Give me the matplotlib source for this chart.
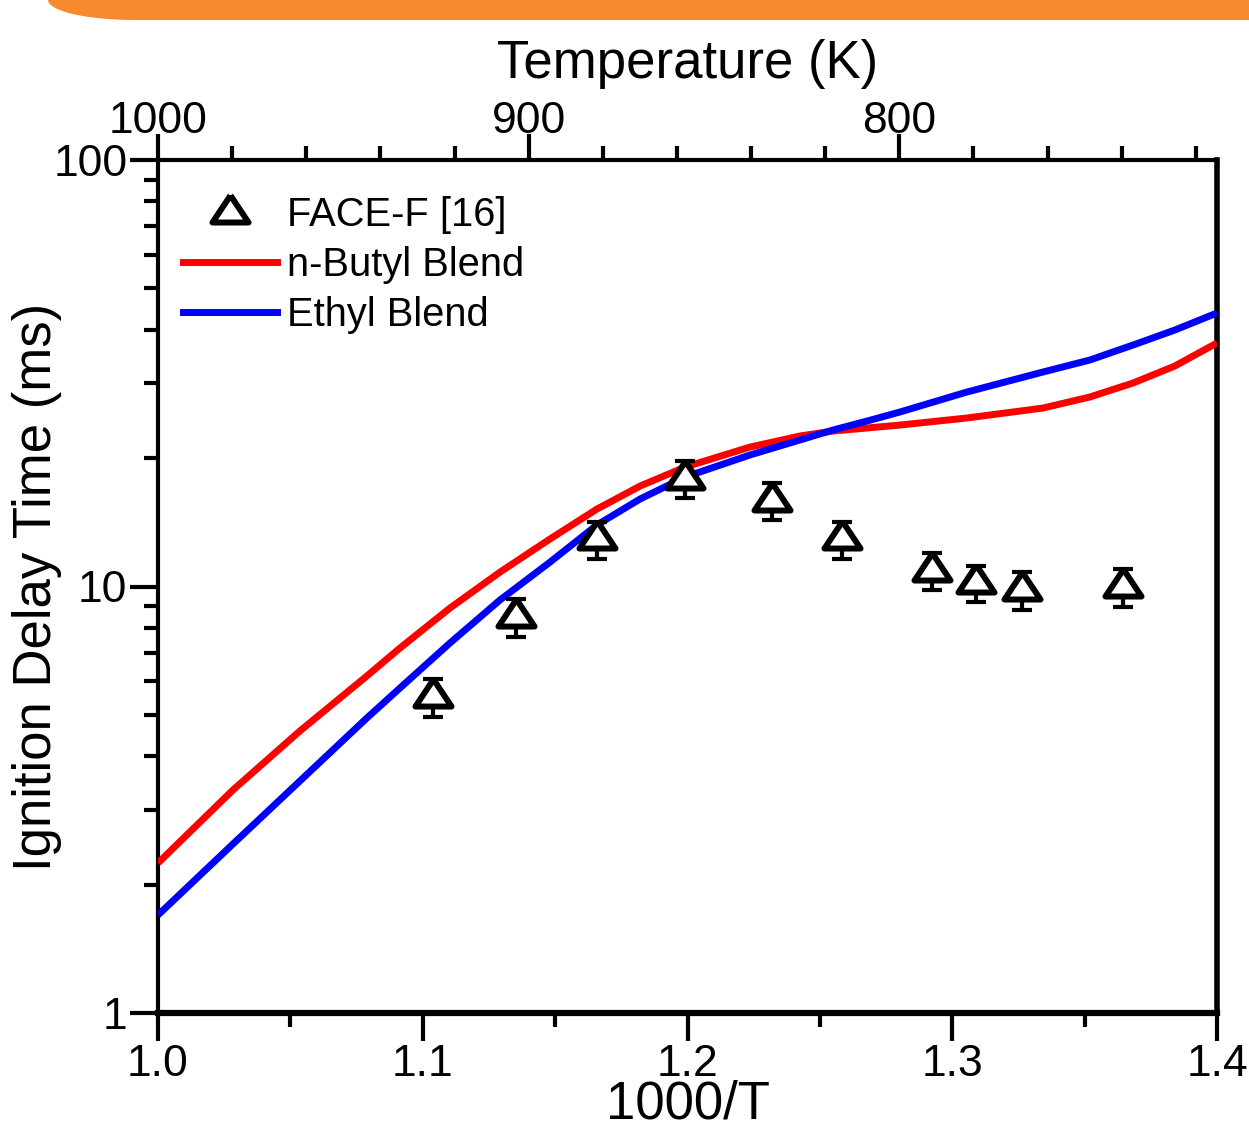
import matplotlib
matplotlib.use("Agg")
import matplotlib.pyplot as plt
from matplotlib.lines import Line2D
from matplotlib.markers import MarkerStyle
from matplotlib.patches import Polygon
from matplotlib.ticker import MultipleLocator, LogLocator, NullFormatter
import numpy as np

plt.rcParams['font.family'] = ['Liberation Sans', 'DejaVu Sans']

# FACE-F [16] measurements
exp_x = [1.1039, 1.1352, 1.1658, 1.1991, 1.2319, 1.2584, 1.2924, 1.3090, 1.3263, 1.3645]
exp_y = [5.51, 8.48, 12.9, 17.9, 15.9, 12.9, 10.9, 10.2, 9.81, 9.97]
exp_err = [0.56, 0.85, 1.3, 1.8, 1.6, 1.3, 1.1, 1.0, 1.0, 1.0]

# model curves
model_x = [1.0000, 1.0283, 1.0536, 1.0789, 1.0914, 1.1103, 1.1292, 1.1481, 1.1658,
           1.1821, 1.1991, 1.2236, 1.2425, 1.2550, 1.2678, 1.2803, 1.3056, 1.3343,
           1.3520, 1.3683, 1.3841, 1.4000]
butyl_y = [2.247, 3.333, 4.584, 6.169, 7.174, 8.903, 10.81, 12.93, 15.19,
           17.20, 19.06, 21.23, 22.54, 23.15, 23.53, 23.91, 24.84, 26.21,
           27.82, 30.00, 32.89, 37.24]
ethyl_y = [1.697, 2.490, 3.499, 4.917, 5.781, 7.372, 9.30, 11.41, 13.94,
           16.04, 18.06, 20.34, 22.06, 23.28, 24.43, 25.66, 28.58, 31.84,
           33.97, 36.83, 39.94, 43.78]

temp_ticks = [1000, 900, 800]

W, H = 1249, 1124
fig = plt.figure(figsize=(W / 100, H / 100), dpi=100)

# orange banner at the top
t = np.linspace(0, np.pi / 2, 30)
cx, cy, rx, ry = 135, 0, 87, 20
curve = [((cx - rx * np.cos(a)) / W, 1 - (cy + ry * np.sin(a)) / H) for a in t]
band = [(48 / W, 1.0)] + curve + [(1.0, 1 - 20 / H), (1.0, 1.0)]
fig.patches.append(Polygon(band, closed=True, transform=fig.transFigure,
                           facecolor='#F7892E', edgecolor='none'))

ax = fig.add_axes([158 / W, 1 - 1013 / H, (1217 - 158) / W, (1013 - 160) / H])

ax.plot(model_x, butyl_y, color='#FF0000', lw=5, solid_joinstyle='round',
        solid_capstyle='butt', zorder=3)
ax.plot(model_x, ethyl_y, color='#0000FF', lw=5, solid_joinstyle='round',
        solid_capstyle='butt', zorder=3)

tri = MarkerStyle([(0, 1), (-1, -0.5), (1, -0.5), (0, 1)], joinstyle='round')
ax.errorbar(exp_x, exp_y, yerr=exp_err, fmt='none', ecolor='black',
            elinewidth=3, capsize=7, capthick=3, zorder=4)
ax.plot(exp_x, exp_y, linestyle='none', marker=tri, markersize=26,
        mfc='white', mec='black', mew=4.3, zorder=5)

ax.set_yscale('log')
ax.set_xlim(1.0, 1.4)
ax.set_ylim(1, 100)
ax.set_xticks([1.0, 1.1, 1.2, 1.3, 1.4])
ax.set_xticklabels(['1.0', '1.1', '1.2', '1.3', '1.4'])
ax.xaxis.set_minor_locator(MultipleLocator(0.05))
ax.set_yticks([1, 10, 100])
ax.set_yticklabels(['1', '10', '100'])
ax.yaxis.set_minor_locator(LogLocator(base=10, subs=np.arange(2, 10)))
ax.yaxis.set_minor_formatter(NullFormatter())

ax.tick_params(axis='both', which='major', direction='out', length=20, width=3,
               labelsize=32)
ax.tick_params(axis='x', which='major', pad=2)
ax.tick_params(axis='y', which='major', pad=2)
ax.tick_params(axis='both', which='minor', direction='out', length=10, width=3)
ax.tick_params(top=False, right=False)
for s in ['left', 'top']:
    ax.spines[s].set_linewidth(3)
ax.spines['right'].set_linewidth(4)
ax.spines['bottom'].set_linewidth(4.5)

ax.set_xlabel('1000/T', fontsize=38)
ax.xaxis.set_label_coords(0.5, -0.0785)
ax.set_ylabel('Ignition Delay Time (ms)', fontsize=38)
ax.yaxis.set_label_coords(-0.0907, 0.5)

ax2 = ax.twiny()
ax2.set_xlim(1000, 1000 / 1.4)
ax2.set_xticks(temp_ticks)
ax2.set_xticklabels([str(v) for v in temp_ticks])
ax2.xaxis.set_minor_locator(MultipleLocator(20))
ax2.tick_params(axis='x', which='major', direction='out', length=19, width=3,
                labelsize=32, pad=-6)
ax2.tick_params(axis='x', which='minor', direction='out', length=10, width=3)
ax2.set_xlabel('Temperature (K)', fontsize=38)
ax2.xaxis.set_label_coords(0.5, 1.0961)
for s in ax2.spines.values():
    s.set_visible(False)

handles = [
    Line2D([], [], linestyle='none', marker=tri, markersize=26, mfc='white',
           mec='black', mew=4.3),
    Line2D([], [], color='#FF0000', lw=5),
    Line2D([], [], color='#0000FF', lw=5),
]
ax.legend(handles, ['FACE-F [16]', 'n-Butyl Blend', 'Ethyl Blend'],
          loc='upper left', bbox_to_anchor=(0.0006, 0.9853), frameon=False,
          fontsize=28.7, handlelength=2.36, handletextpad=0.25, labelspacing=0.3,
          borderaxespad=0.2)

fig.savefig('out.png', dpi=100)
